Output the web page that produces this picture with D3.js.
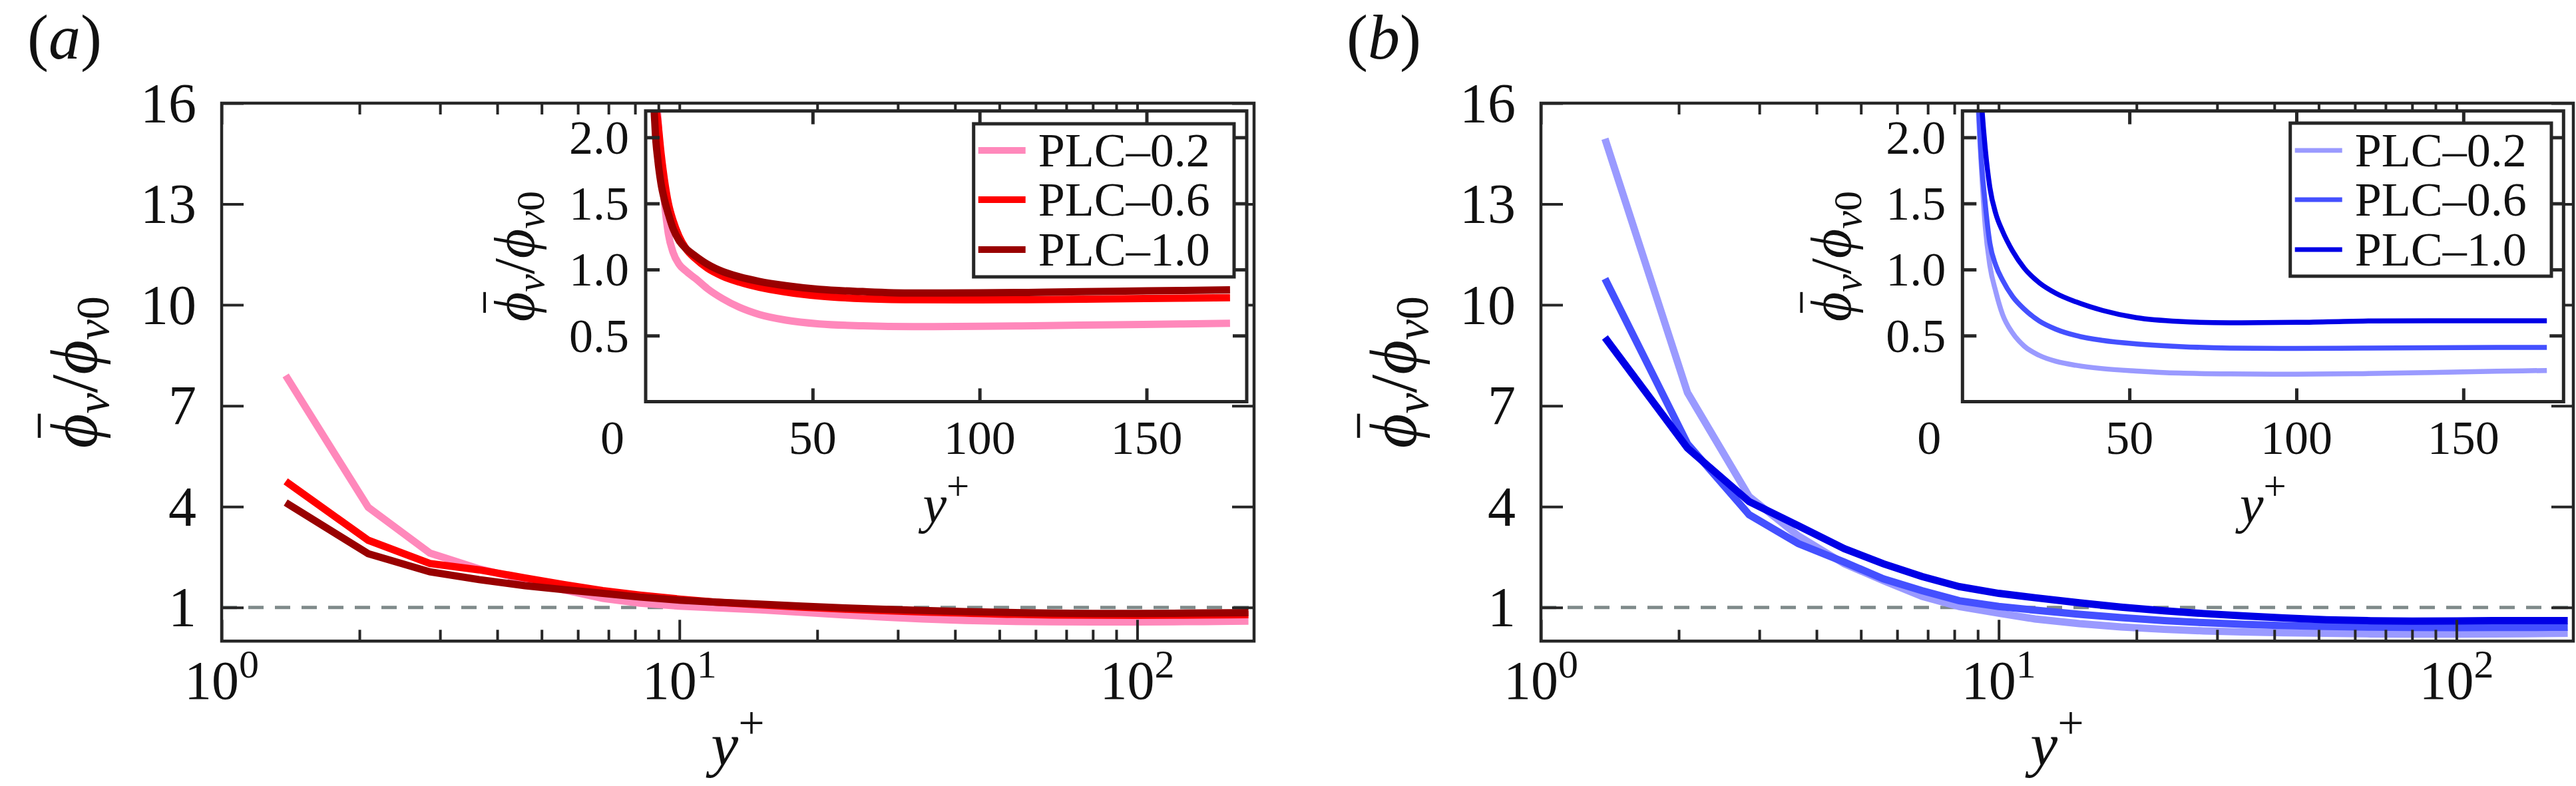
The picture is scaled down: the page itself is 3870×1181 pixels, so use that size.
<!DOCTYPE html>
<html>
<head>
<meta charset="utf-8">
<script src="https://cdnjs.cloudflare.com/ajax/libs/d3/7.8.5/d3.min.js"></script>
<style>
  body { margin: 0; background: #fff; }
  svg text { font-family: "Liberation Serif", "Times New Roman", "DejaVu Serif", serif !important; fill: #111; }
</style>
</head>
<body>
<script>
// ---- data ----
var yPlus = [1.38, 2.09, 2.85, 3.65, 4.6, 5.6, 6.8, 8.2, 10, 12, 15, 18.5, 23, 28, 34, 42, 52, 65, 80, 100, 120, 140, 160, 175];

// panel (a)
var a02 = [7.9, 3.98, 2.62, 2.15, 1.82, 1.52, 1.27, 1.13, 1.04, 0.99, 0.93, 0.855, 0.78, 0.715, 0.66, 0.617, 0.588, 0.574, 0.568, 0.57, 0.576, 0.582, 0.588, 0.593];
var a06 = [4.75, 3.0, 2.31, 2.12, 1.88, 1.68, 1.5, 1.37, 1.25, 1.16, 1.08, 1.01, 0.95, 0.905, 0.865, 0.83, 0.8, 0.78, 0.772, 0.77, 0.773, 0.778, 0.783, 0.787];
var a10 = [4.12, 2.6, 2.06, 1.83, 1.65, 1.53, 1.42, 1.31, 1.22, 1.16, 1.1, 1.04, 0.985, 0.945, 0.91, 0.878, 0.85, 0.833, 0.822, 0.823, 0.828, 0.835, 0.841, 0.846];

// panel (b)
var b02 = [14.94, 7.39, 4.3, 3.13, 2.3, 1.8, 1.33, 1.03, 0.83, 0.66, 0.52, 0.42, 0.35, 0.305, 0.275, 0.25, 0.232, 0.216, 0.21, 0.208, 0.212, 0.22, 0.23, 0.236];
var b06 = [10.78, 5.87, 3.76, 2.9, 2.35, 1.85, 1.5, 1.2, 1.03, 0.92, 0.796, 0.70, 0.61, 0.548, 0.50, 0.463, 0.437, 0.417, 0.406, 0.403, 0.405, 0.408, 0.41, 0.411];
var b10 = [9.03, 5.74, 4.15, 3.43, 2.75, 2.3, 1.92, 1.62, 1.42, 1.29, 1.14, 1.01, 0.90, 0.82, 0.755, 0.69, 0.636, 0.607, 0.597, 0.60, 0.61, 0.612, 0.612, 0.612];

var seriesNames = ["PLC\u20130.2", "PLC\u20130.6", "PLC\u20131.0"];
var colorsA = ["#ff88bb", "#ff0000", "#990000"];
var colorsB = ["#9a9aff", "#4450ff", "#0000e6"];

var mainYTicks = [1, 4, 7, 10, 13, 16];
var mainXMajor = [1, 10, 100];
var mainXMinor = [2, 3, 4, 5, 6, 7, 8, 9, 20, 30, 40, 50, 60, 70, 80, 90];
var insetXTicks = [50, 100, 150];
var insetYTicks = [0.5, 1.0, 1.5, 2.0];

// ---- drawing ----
var AX = "#262626";
var FONT = '"Liberation Serif", "Times New Roman", "DejaVu Serif", serif';
var svg = d3.select("body").append("svg")
            .attr("width", 3870)
            .attr("height", 1181)
            .attr("font-family", FONT);
svg.append("rect").attr("width", 3870).attr("height", 1181).attr("fill", "#fff");

function txt(g) {
	return g.append("text").attr("font-family", FONT);
}

function tickSet(g, axisFn, scale, values, len, transform, width) {
	g.append("g")
		.attr("transform", transform)
		.call(axisFn(scale).tickValues(values).tickSize(-len).tickSizeOuter(0).tickFormat(""))
		.call(function(s) { s.select(".domain").remove(); s.selectAll("text").remove(); })
		.selectAll("line")
		.attr("stroke", AX)
		.attr("stroke-width", width);
}

// y label, bar over phi, rotated
function phiLabel(g, cx, cy, fs) {
	var lg = g.append("g").attr("transform", "translate(" + cx + "," + cy + ") rotate(-90)");
	var t = txt(lg)
		.attr("text-anchor", "middle")
		.style("font-size", fs + "px");
	t.append("tspan").attr("font-style", "italic").text("\u03d5");
	t.append("tspan").attr("font-style", "italic").attr("dy", 0.18 * fs).style("font-size", (0.7 * fs) + "px").text("v");
	t.append("tspan").attr("dy", -0.18 * fs).text("/");
	t.append("tspan").attr("font-style", "italic").text("\u03d5");
	t.append("tspan").attr("font-style", "italic").attr("dy", 0.18 * fs).style("font-size", (0.7 * fs) + "px").text("v");
	t.append("tspan").style("font-size", (0.7 * fs) + "px").text("0");
	var ext = t.node().getExtentOfChar(0);
	lg.append("line")
		.attr("x1", ext.x + ext.width * 0.3)
		.attr("x2", ext.x + ext.width * 1.0)
		.attr("y1", -0.86 * fs)
		.attr("y2", -0.86 * fs)
		.attr("stroke", "#111")
		.attr("stroke-width", fs * 0.045);
}

function yPlusLabel(g, cx, base, fs) {
	var t = txt(g)
		.attr("x", cx).attr("y", base)
		.attr("text-anchor", "middle")
		.style("font-size", fs + "px");
	t.append("tspan").attr("font-style", "italic").text("y");
	t.append("tspan").attr("dy", -0.43 * fs).style("font-size", (0.76 * fs) + "px").text("+");
}

function drawPanel(p) {
	var g = svg.append("g");
	var m = p.main;
	var x = d3.scaleLog().domain([1, 180]).range([m.x0, m.x1]);
	var y = d3.scaleLinear().domain([0, 16]).range([m.y1, m.y0]);

	var clipId = "clipMain" + p.tag;
	g.append("clipPath").attr("id", clipId).append("rect")
		.attr("x", m.x0).attr("y", m.y0).attr("width", m.x1 - m.x0).attr("height", m.y1 - m.y0);

	// reference line at 1
	g.append("line")
		.attr("x1", m.x0).attr("x2", m.x1)
		.attr("y1", y(1)).attr("y2", y(1))
		.attr("stroke", "#7f8a8a")
		.attr("stroke-width", 5)
		.attr("stroke-dasharray", "23,17");

	var line = d3.line().x(function(d) { return x(d[0]); }).y(function(d) { return y(d[1]); });
	p.series.forEach(function(s, i) {
		g.append("path")
			.datum(d3.zip(yPlus, s))
			.attr("d", line)
			.attr("clip-path", "url(#" + clipId + ")")
			.attr("fill", "none")
			.attr("stroke", p.colors[i])
			.attr("stroke-width", 11);
	});

	tickSet(g, d3.axisBottom, x, mainXMajor, 32, "translate(0," + m.y1 + ")", 4);
	tickSet(g, d3.axisBottom, x, mainXMinor, 17, "translate(0," + m.y1 + ")", 4);
	tickSet(g, d3.axisTop, x, mainXMajor, 32, "translate(0," + m.y0 + ")", 4);
	tickSet(g, d3.axisTop, x, mainXMinor, 17, "translate(0," + m.y0 + ")", 4);
	tickSet(g, d3.axisLeft, y, mainYTicks, 33, "translate(" + m.x0 + ",0)", 4);
	tickSet(g, d3.axisRight, y, mainYTicks, 33, "translate(" + m.x1 + ",0)", 4);

	g.append("rect")
		.attr("x", m.x0).attr("y", m.y0)
		.attr("width", m.x1 - m.x0).attr("height", m.y1 - m.y0)
		.attr("fill", "none").attr("stroke", AX).attr("stroke-width", 4.5);

	// main tick labels
	mainYTicks.forEach(function(v) {
		txt(g)
			.attr("x", m.x0 - 38).attr("y", y(v)).attr("dy", "0.34em")
			.attr("text-anchor", "end")
			.style("font-size", "84px")
			.text(v);
	});
	mainXMajor.forEach(function(v) {
		var t = txt(g)
			.attr("x", x(v)).attr("y", 1050)
			.attr("text-anchor", "middle")
			.style("font-size", "82px");
		t.append("tspan").text("10");
		t.append("tspan").attr("dy", -32).style("font-size", "60px").text(Math.round(Math.log10(v)));
	});
	yPlusLabel(g, (m.x0 + m.x1) / 2, 1150, 92);
	phiLabel(g, m.x0 - 188, (m.y0 + m.y1) / 2, 100);

	// panel tag
	var tag = txt(g).attr("x", p.tagX).attr("y", 88).style("font-size", "96px");
	tag.append("tspan").text("(");
	tag.append("tspan").attr("font-style", "italic").text(p.tag);
	tag.append("tspan").text(")");

	// ---- inset ----
	var n = p.inset;
	var ix = d3.scaleLinear().domain([0, 180]).range([n.x0, n.x1]);
	var iy = d3.scaleLinear().domain([0, 2.2]).range([n.y1, n.y0]);
	var ig = g.append("g");
	ig.append("rect")
		.attr("x", n.x0).attr("y", n.y0).attr("width", n.x1 - n.x0).attr("height", n.y1 - n.y0)
		.attr("fill", "#fff");
	var clipIn = "clipInset" + p.tag;
	ig.append("clipPath").attr("id", clipIn).append("rect")
		.attr("x", n.x0).attr("y", n.y0).attr("width", n.x1 - n.x0).attr("height", n.y1 - n.y0);
	var iline = d3.line().curve(d3.curveMonotoneX)
		.x(function(d) { return ix(d[0]); }).y(function(d) { return iy(d[1]); });
	p.series.forEach(function(s, i) {
		ig.append("path")
			.datum(d3.zip(yPlus, s))
			.attr("d", iline)
			.attr("clip-path", "url(#" + clipIn + ")")
			.attr("fill", "none")
			.attr("stroke", p.colors[i])
			.attr("stroke-width", p.insetWidth);
	});
	tickSet(ig, d3.axisBottom, ix, insetXTicks, 20, "translate(0," + n.y1 + ")", 5);
	tickSet(ig, d3.axisTop, ix, insetXTicks, 20, "translate(0," + n.y0 + ")", 5);
	tickSet(ig, d3.axisLeft, iy, insetYTicks, 21, "translate(" + n.x0 + ",0)", 5);
	tickSet(ig, d3.axisRight, iy, insetYTicks, 21, "translate(" + n.x1 + ",0)", 5);
	ig.append("rect")
		.attr("x", n.x0).attr("y", n.y0).attr("width", n.x1 - n.x0).attr("height", n.y1 - n.y0)
		.attr("fill", "none").attr("stroke", AX).attr("stroke-width", 5);

	insetYTicks.forEach(function(v) {
		txt(ig)
			.attr("x", n.x0 - 25).attr("y", iy(v)).attr("dy", "0.34em")
			.attr("text-anchor", "end")
			.style("font-size", "72px")
			.text(d3.format(".1f")(v));
	});
	insetXTicks.forEach(function(v) {
		txt(ig)
			.attr("x", ix(v)).attr("y", 682)
			.attr("text-anchor", "middle")
			.style("font-size", "72px")
			.text(v);
	});
	txt(ig)
		.attr("x", ix(0) - 50).attr("y", 682)
		.attr("text-anchor", "middle")
		.style("font-size", "72px")
		.text(0);
	yPlusLabel(ig, (n.x0 + n.x1) / 2, 785, 80);
	phiLabel(ig, n.x0 - 168, (n.y0 + n.y1) / 2, 86);

	// legend
	var L = p.legend;
	ig.append("rect")
		.attr("x", L.x0).attr("y", L.y0).attr("width", L.x1 - L.x0).attr("height", L.y1 - L.y0)
		.attr("fill", "#fff").attr("stroke", AX).attr("stroke-width", 5);
	var rows = [226, 300, 375];
	seriesNames.forEach(function(name, i) {
		ig.append("line")
			.attr("x1", L.x0 + 7).attr("x2", L.x0 + 78)
			.attr("y1", rows[i]).attr("y2", rows[i])
			.attr("stroke", p.colors[i])
			.attr("stroke-width", p.legendWidth);
		txt(ig)
			.attr("x", L.x0 + 97).attr("y", rows[i] + 24)
			.style("font-size", "72px")
			.text(name);
	});
}

drawPanel({
	tag: "a", tagX: 41,
	series: [a02, a06, a10], colors: colorsA,
	main: {x0: 333, x1: 1884, y0: 155, y1: 963.3},
	inset: {x0: 970, x1: 1873, y0: 166.7, y1: 603.5},
	legend: {x0: 1462.7, x1: 1854, y0: 186, y1: 416},
	insetWidth: 11, legendWidth: 10
});
drawPanel({
	tag: "b", tagX: 2023,
	series: [b02, b06, b10], colors: colorsB,
	main: {x0: 2315, x1: 3866, y0: 155, y1: 963.3},
	inset: {x0: 2948.3, x1: 3851.3, y0: 166.7, y1: 603.5},
	legend: {x0: 3440.7, x1: 3833, y0: 185, y1: 415},
	insetWidth: 7.5, legendWidth: 7
});
</script>
</body>
</html>
